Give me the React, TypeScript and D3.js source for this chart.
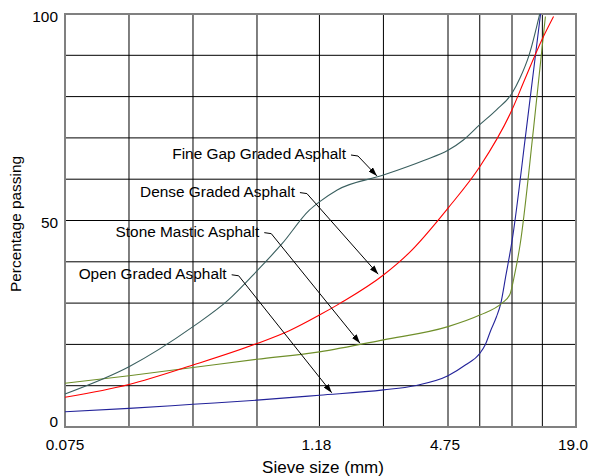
import React from "react";
import * as d3 from "d3";

// ---- data ----
const sieveGrid = [0.075, 0.15, 0.3, 0.6, 1.18, 2.36, 4.75, 6.7, 9.5, 13.2, 19.0];
const xTickValues = [0.075, 1.18, 4.75, 19.0];
const xTickLabels = ["0.075", "1.18", "4.75", "19.0"];
const yGridValues = [0, 10, 20, 30, 40, 50, 60, 70, 80, 90, 100];
const yTickValues = [0, 50, 100];

const openSieve = [0.075, 0.15, 0.3, 0.6, 1.18, 2.36, 3.31, 4.75, 5.73, 6.7, 7.11, 7.56, 8.03, 8.42, 8.87, 9.5, 11.09, 12.94];
const openPass = [3.7, 4.5, 5.5, 6.5, 7.7, 9.0, 10.0, 12.4, 15.0, 17.8, 19.9, 23.5, 26.7, 30, 36.4, 45, 72, 100];

const smaSieve = [0.075, 0.15, 0.3, 0.6, 1.18, 2.36, 4.75, 6.7, 8.52, 9.27, 9.78, 10.36, 11.98, 13.64];
const smaPass = [10.6, 12.4, 14.4, 16.4, 18.2, 21.1, 24.3, 27.1, 30, 32, 37, 44, 72, 99.4];

const denseSieve = [0.075, 0.15, 0.3, 0.6, 0.851, 1.18, 1.481, 2.36, 3.108, 4.75, 6.7, 9.5, 10.88, 13.2, 14.9];
const densePass = [7.2, 10.3, 15.0, 20.2, 23.3, 27.1, 30, 36.8, 42.1, 53, 63, 76.8, 84, 94, 99.4];

const fineSieve = [0.075, 0.15, 0.3, 0.439, 0.6, 0.791, 1.058, 1.18, 1.431, 2.36, 3.68, 4.75, 5.61, 6.7, 8.03, 9.5, 10.36, 11.42, 12.82];
const finePass = [8.0, 14.6, 24.3, 30.7, 37.8, 44.5, 52.5, 54.5, 57.4, 61.0, 64.6, 67.0, 69.5, 73.2, 76.8, 80.8, 84.5, 90, 100];

const seriesNames = ["Open Graded Asphalt", "Stone Mastic Asphalt", "Dense Graded Asphalt", "Fine Gap Graded Asphalt"];
const seriesColors = ["#23239a", "#6f8f2a", "#ff0000", "#3a5f5f"];

// annotations (data coordinates)
const annLabels = ["Fine Gap Graded Asphalt", "Dense Graded Asphalt", "Stone Mastic Asphalt", "Open Graded Asphalt"];
const annTextSieve = [1.573, 0.905, 0.615, 0.432];
const annTextPass = [66.1, 57.0, 47.3, 37.1];
const annTipSieve = [2.2, 2.23, 1.83, 1.348];
const annTipPass = [60.8, 37.0, 20.3, 8.3];

const W = 589;
const H = 476;
const FONT = "'Liberation Sans', Arial, Helvetica, sans-serif";
const FS = 15.4;

export default function App() {
  const x = d3.scaleLog().domain([0.075, 19]).range([65, 576]);
  const y = d3.scaleLinear().domain([0, 100]).range([427, 14]);

  const series = [
    { s: openSieve, p: openPass },
    { s: smaSieve, p: smaPass },
    { s: denseSieve, p: densePass },
    { s: fineSieve, p: finePass },
  ];

  const line = d3
    .line<[number, number]>()
    .x((d) => x(d[0]))
    .y((d) => y(d[1]))
    .curve(d3.curveMonotoneX);

  const [x0, x1] = x.range();
  const [yb, yt] = y.range();

  return (
    <svg
      width={W}
      height={H}
      style={{ position: "absolute", left: 0, top: 0, background: "#fff" }}
      fontFamily={FONT}
    >
      <defs>
        <marker
          id="arrowhead"
          viewBox="0 0 9 6"
          refX={9}
          refY={3}
          markerWidth={9}
          markerHeight={6}
          markerUnits="userSpaceOnUse"
          orient="auto"
        >
          <path d="M0,0 L9,3 L0,6 z" fill="#000" />
        </marker>
      </defs>

      {/* horizontal grid */}
      {yGridValues.map((v) => (
        <line key={"h" + v} x1={x0} x2={x1} y1={y(v)} y2={y(v)} stroke="#000" strokeWidth={1} />
      ))}
      {/* vertical grid */}
      {sieveGrid.map((s) => (
        <line key={"v" + s} x1={x(s)} x2={x(s)} y1={yb} y2={yt} stroke="#000" strokeWidth={1} />
      ))}
      {/* frame */}
      <rect x={x0} y={yt} width={x1 - x0} height={yb - yt} fill="none" stroke="#808080" strokeWidth={2} />

      {/* series */}
      {series.map((sr, i) => (
        <path
          key={seriesNames[i]}
          d={line(sr.s.map((s, j) => [s, sr.p[j]] as [number, number])) || ""}
          fill="none"
          stroke={seriesColors[i]}
          strokeWidth={1.1}
        />
      ))}

      {/* annotations */}
      {annLabels.map((lab, i) => {
        const tx = x(annTextSieve[i]);
        const ty = y(annTextPass[i]);
        const px = x(annTipSieve[i]);
        const py = y(annTipPass[i]);
        return (
          <g key={lab}>
            <text x={tx} y={ty} dy="0.35em" textAnchor="end" fontSize={FS} fill="#000">
              {lab}
            </text>
            <path
              d={`M${tx + 5},${ty + 1} L${tx + 12},${ty + 2} L${px},${py}`}
              fill="none"
              stroke="#000"
              strokeWidth={1}
              markerEnd="url(#arrowhead)"
            />
          </g>
        );
      })}

      {/* y tick labels */}
      {yTickValues.map((v) => (
        <text key={"yl" + v} x={58} y={Math.min(y(v) + 7.5, yb)} textAnchor="end" fontSize={FS} fill="#000">
          {v}
        </text>
      ))}
      {/* x tick labels */}
      {xTickValues.map((v, i) => (
        <text key={"xl" + v} x={x(v) + (i === 0 ? 0 : -3)} y={450} textAnchor="middle" fontSize={FS} fill="#000">
          {xTickLabels[i]}
        </text>
      ))}

      {/* axis titles */}
      <text x={323} y={473} textAnchor="middle" fontSize={17} fill="#000">
        Sieve size (mm)
      </text>
      <text transform={`translate(21,224) rotate(-90)`} textAnchor="middle" fontSize={FS} fill="#000">
        Percentage passing
      </text>
    </svg>
  );
}
